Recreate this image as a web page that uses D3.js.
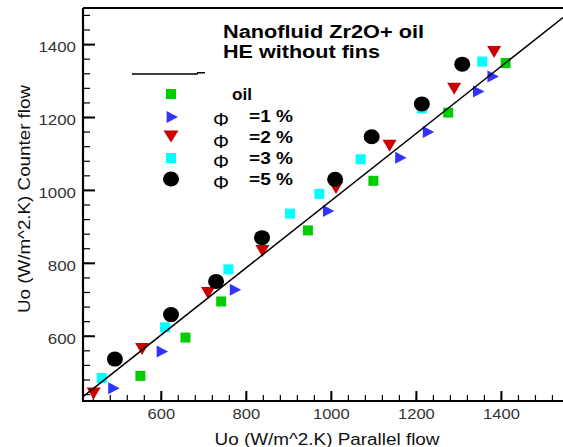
<!DOCTYPE html>
<html>
<head>
<meta charset="utf-8">
<script src="https://cdn.jsdelivr.net/npm/d3@7"></script>
<style>
  html, body { margin: 0; padding: 0; background: #fff; }
  svg { display: block; }
  text { font-family: "Liberation Sans", Arial, sans-serif; }
</style>
</head>
<body>
<svg id="chart" width="563" height="447"></svg>
<script>
// ---- data ----
const oilX  = [552, 658, 742, 946, 1100, 1276, 1411];
const oilY  = [490, 595, 694, 889, 1025, 1212, 1348];
const phi1X = [489, 603, 775, 994, 1164, 1229, 1347, 1381];
const phi1Y = [456, 557, 726, 942, 1088, 1159, 1270, 1311];
const phi2X = [442, 556, 711, 839, 1012, 1138, 1290, 1384];
const phi2Y = [443, 565, 719, 834, 1007, 1123, 1279, 1380];
const phi3X = [461, 610, 759, 904, 973, 1070, 1214, 1356];
const phi3Y = [484, 623, 782, 935, 989, 1084, 1224, 1352];
const phi5X = [492, 624, 730, 838, 1010, 1096, 1214, 1309];
const phi5Y = [536, 658, 749, 869, 1029, 1146, 1236, 1345];
const lineX = [415, 1546];
const lineY = [431, 1473];
const xTicks = [600, 800, 1000, 1200, 1400];
const yTicks = [600, 800, 1000, 1200, 1400];
const xMinor = d3.range(440, 1541, 40);
const yMinor = d3.range(440, 1481, 40);
const legendLabels = ["oil", "=1 %", "=2 %", "=3 %", "=5 %"];
const titleLines = ["Nanofluid Zr2O+ oil", "HE without fins"];
const xTitle = "Uo (W/m^2.K) Parallel flow";
const yTitle = "Uo (W/m^2.K) Counter flow";

// ---- layout ----
const svg = d3.select("#chart");
const L = 83, R = 563, T = 8, B = 401;
const x = d3.scaleLinear().domain([417, 1546]).range([L, R]);
const y = d3.scaleLinear().domain([421, 1499]).range([B, T]);
const fmt = d3.format("d");

const colors = { oil: "#00cc00", p1: "#3333ff", p2: "#cc0000", p3: "#00ffff", p5: "#000000" };

// minor ticks
const gxm = svg.append("g").attr("transform", `translate(0,${B})`)
  .call(d3.axisBottom(x).tickValues(xMinor).tickSize(-6).tickFormat(""));
gxm.select(".domain").remove();
gxm.selectAll("line").attr("stroke", "#000").attr("stroke-width", 1.2);
const gym = svg.append("g").attr("transform", `translate(${L},0)`)
  .call(d3.axisLeft(y).tickValues(yMinor).tickSize(-7).tickFormat(""));
gym.select(".domain").remove();
gym.selectAll("line").attr("stroke", "#000").attr("stroke-width", 1.2);

// major ticks
const gx = svg.append("g").attr("transform", `translate(0,${B})`)
  .call(d3.axisBottom(x).tickValues(xTicks).tickFormat(fmt).tickSize(-10).tickPadding(0));
gx.select(".domain").remove();
gx.selectAll("line").attr("stroke", "#000").attr("stroke-width", 2);
gx.selectAll("text")
  .attr("y", 18).attr("dy", 0)
  .attr("font-size", 15).attr("fill", "#333")
  .attr("font-family", "Liberation Sans, Arial, sans-serif")
  .attr("textLength", d => fmt(d).length * 9.2)
  .attr("lengthAdjust", "spacingAndGlyphs");

const gy = svg.append("g").attr("transform", `translate(${L},0)`)
  .call(d3.axisLeft(y).tickValues(yTicks).tickFormat(fmt).tickSize(-12).tickPadding(0));
gy.select(".domain").remove();
gy.selectAll("line").attr("stroke", "#000").attr("stroke-width", 2);
gy.selectAll("text")
  .attr("x", -7).attr("dy", 7.4)
  .attr("font-size", 15).attr("fill", "#333")
  .attr("font-family", "Liberation Sans, Arial, sans-serif")
  .attr("textLength", d => fmt(d).length * 9.4)
  .attr("lengthAdjust", "spacingAndGlyphs");

// axis lines / frame
svg.append("line").attr("x1", L).attr("x2", R).attr("y1", B).attr("y2", B)
  .attr("stroke", "#000").attr("stroke-width", 2.2);
svg.append("line").attr("x1", L).attr("x2", L).attr("y1", T).attr("y2", B + 1)
  .attr("stroke", "#000").attr("stroke-width", 2.2);
svg.append("line").attr("x1", L).attr("x2", R).attr("y1", T).attr("y2", T)
  .attr("stroke", "#000").attr("stroke-width", 2);

// ---- markers ----
const sq = d3.symbol().type(d3.symbolSquare).size(100);
function triRight(s) {
  return `M${-s*0.45},${-s/2} L${s*0.5},0 L${-s*0.45},${s/2} Z`;
}
function triDown(w, h) {
  return `M${-w/2},${-h*0.45} L${w/2},${-h*0.45} L0,${h*0.55} Z`;
}
const plot = svg.append("g");
function pts(xs, ys) { return xs.map((v, i) => [v, ys[i]]); }

plot.selectAll(".oil").data(pts(oilX, oilY)).join("path")
  .attr("transform", d => `translate(${x(d[0])},${y(d[1])})`)
  .attr("d", sq).attr("fill", colors.oil);
plot.selectAll(".p1").data(pts(phi1X, phi1Y)).join("path")
  .attr("transform", d => `translate(${x(d[0])},${y(d[1])})`)
  .attr("d", triRight(12)).attr("fill", colors.p1);
plot.selectAll(".p2").data(pts(phi2X, phi2Y)).join("path")
  .attr("transform", d => `translate(${x(d[0])},${y(d[1])})`)
  .attr("d", triDown(14, 12)).attr("fill", colors.p2);
plot.selectAll(".p3").data(pts(phi3X, phi3Y)).join("path")
  .attr("transform", d => `translate(${x(d[0])},${y(d[1])})`)
  .attr("d", sq).attr("fill", colors.p3);
plot.selectAll(".p5").data(pts(phi5X, phi5Y)).join("ellipse")
  .attr("cx", d => x(d[0])).attr("cy", d => y(d[1]))
  .attr("rx", 8).attr("ry", 7.5).attr("fill", colors.p5);

// diagonal line
svg.append("path")
  .attr("d", d3.line().x(d => x(d[0])).y(d => y(d[1]))(pts(lineX, lineY)))
  .attr("stroke", "#000").attr("stroke-width", 1.5).attr("fill", "none");

// ---- title ----
svg.append("text").attr("x", 223).attr("y", 37.5)
  .attr("font-size", 17.5).attr("font-weight", "bold").attr("fill", "#000")
  .attr("textLength", 201).attr("lengthAdjust", "spacingAndGlyphs")
  .text(titleLines[0]);
svg.append("text").attr("x", 223).attr("y", 57.5)
  .attr("font-size", 17.5).attr("font-weight", "bold").attr("fill", "#000")
  .attr("textLength", 157).attr("lengthAdjust", "spacingAndGlyphs")
  .text(titleLines[1]);

// ---- legend ----
svg.append("path").attr("d", "M132,74 L197,74 L198,72.7 L205,72.7")
  .attr("stroke", "#000").attr("stroke-width", 1.6).attr("fill", "none");
const lx = 171;
const ly = [94, 117, 136, 158, 179];
svg.append("path").attr("transform", `translate(${lx},${ly[0]})`).attr("d", sq).attr("fill", colors.oil);
svg.append("path").attr("transform", `translate(${lx + 1},${ly[1]})`).attr("d", triRight(12)).attr("fill", colors.p1);
svg.append("path").attr("transform", `translate(${lx},${ly[2]})`).attr("d", triDown(15, 12)).attr("fill", colors.p2);
svg.append("path").attr("transform", `translate(${lx},${ly[3]})`).attr("d", sq).attr("fill", colors.p3);
svg.append("ellipse").attr("cx", lx).attr("cy", ly[4]).attr("rx", 8).attr("ry", 7.5).attr("fill", colors.p5);

svg.append("text").attr("x", 232).attr("y", 100)
  .attr("font-size", 17).attr("font-weight", "bold")
  .attr("textLength", 20).attr("lengthAdjust", "spacingAndGlyphs")
  .text(legendLabels[0]);
const phiBase = [126, 147.5, 168, 188.5];
const labBase = [121.7, 142.7, 164.3, 185];
for (let i = 0; i < 4; i++) {
  svg.append("text").attr("x", 213).attr("y", phiBase[i])
    .attr("font-family", "DejaVu Serif, Liberation Serif, serif")
    .attr("font-size", 19).attr("fill", "#000")
    .attr("textLength", 16).attr("lengthAdjust", "spacingAndGlyphs")
    .text("Φ");
  svg.append("text").attr("x", 249).attr("y", labBase[i])
    .attr("font-size", 17).attr("font-weight", "bold")
    .attr("textLength", 44).attr("lengthAdjust", "spacingAndGlyphs")
    .text(legendLabels[i + 1]);
}

// ---- axis titles ----
svg.append("text").attr("x", 327).attr("y", 445)
  .attr("text-anchor", "middle").attr("font-size", 16).attr("fill", "#111")
  .attr("textLength", 225).attr("lengthAdjust", "spacingAndGlyphs")
  .text(xTitle);
svg.append("text").attr("transform", "translate(30,199) rotate(-90)")
  .attr("text-anchor", "middle").attr("font-size", 16).attr("fill", "#111")
  .attr("textLength", 228).attr("lengthAdjust", "spacingAndGlyphs")
  .text(yTitle);
</script>
</body>
</html>
